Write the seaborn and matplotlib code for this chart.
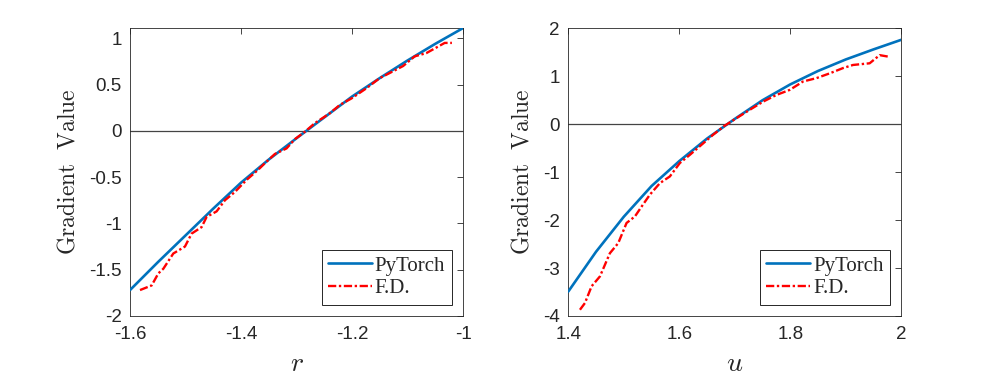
import numpy as np
import pandas as pd
import matplotlib
matplotlib.use("Agg")
import matplotlib.pyplot as plt
import seaborn as sns

# left panel: gradient w.r.t. r
r_torch = [-1.60, -1.55, -1.50, -1.45, -1.40, -1.35, -1.30, -1.25, -1.20, -1.15, -1.10, -1.05, -1.00]
g_torch_r = [-1.72, -1.42, -1.13, -0.84, -0.56, -0.31, -0.08, 0.145, 0.37, 0.57, 0.76, 0.94, 1.11]

r_fd = [-1.582, -1.561, -1.549, -1.540, -1.522, -1.501, -1.489, -1.471, -1.462, -1.444,
        -1.429, -1.411, -1.390, -1.369, -1.357, -1.339, -1.318, -1.303, -1.285, -1.267,
        -1.240, -1.222, -1.201, -1.174, -1.150, -1.132, -1.108, -1.087, -1.066, -1.045,
        -1.033, -1.020]
g_fd_r = [-1.72, -1.67, -1.54, -1.49, -1.325, -1.25, -1.11, -1.04, -0.93, -0.87,
          -0.75, -0.66, -0.53, -0.42, -0.35, -0.25, -0.19, -0.09, -0.01, 0.083,
          0.19, 0.28, 0.35, 0.46, 0.57, 0.625, 0.70, 0.805, 0.84, 0.91,
          0.95, 0.95]

# right panel: gradient w.r.t. u
u_torch = [1.40, 1.45, 1.50, 1.55, 1.60, 1.65, 1.70, 1.75, 1.80, 1.85, 1.90, 1.95, 2.00]
g_torch_u = [-3.49, -2.66, -1.93, -1.29, -0.77, -0.30, 0.11, 0.50, 0.83, 1.11, 1.35, 1.56, 1.76]

u_fd = [1.421, 1.430, 1.442, 1.457, 1.475, 1.490, 1.505, 1.520, 1.532, 1.547,
        1.565, 1.583, 1.601, 1.619, 1.643, 1.661, 1.682, 1.703, 1.727, 1.751,
        1.775, 1.799, 1.823, 1.847, 1.871, 1.895, 1.913, 1.943, 1.961, 1.976]
g_fd_u = [-3.87, -3.73, -3.38, -3.175, -2.69, -2.48, -2.06, -1.925, -1.72, -1.47,
          -1.23, -1.09, -0.81, -0.64, -0.40, -0.22, -0.03, 0.125, 0.30, 0.47,
          0.61, 0.715, 0.89, 0.96, 1.06, 1.17, 1.235, 1.27, 1.44, 1.41]

sns.set_style("white")
plt.rcParams['font.family'] = ['Liberation Sans', 'DejaVu Sans']
plt.rcParams['mathtext.fontset'] = 'cm'
plt.rcParams['axes.unicode_minus'] = False

BLUE = '#0072BD'
RED = '#FF0000'
DARK = '#262626'
FD_STYLE = (0, (3.5, 1.1, 1.0, 1.1))

fig = plt.figure(figsize=(9.97, 3.88), dpi=100)
ax1 = fig.add_axes([0.1304, 0.1856, 0.334, 0.7415])
ax2 = fig.add_axes([0.570, 0.1856, 0.334, 0.7415])

panels = [
    (ax1, r_torch, g_torch_r, r_fd, g_fd_r, (-1.6, -1.0), (-2, 1.108),
     [-1.6, -1.4, -1.2, -1.0], ['-1.6', '-1.4', '-1.2', '-1'],
     [-2, -1.5, -1, -0.5, 0, 0.5, 1], ['-2', '-1.5', '-1', '-0.5', '0', '0.5', '1'], r'$r$'),
    (ax2, u_torch, g_torch_u, u_fd, g_fd_u, (1.4, 2.0), (-4, 2),
     [1.4, 1.6, 1.8, 2.0], ['1.4', '1.6', '1.8', '2'],
     [-4, -3, -2, -1, 0, 1, 2], ['-4', '-3', '-2', '-1', '0', '1', '2'], r'$u$'),
]

for ax, xt, yt, xf, yf, xlim, ylim, xticks, xtl, yticks, ytl, xlab in panels:
    ax.axhline(0, color='#444444', lw=0.9, zorder=1)
    sns.lineplot(x=xt, y=yt, ax=ax, color=BLUE, lw=1.9, label='PyTorch', zorder=3)
    sns.lineplot(x=xf, y=yf, ax=ax, color=RED, lw=1.7, linestyle=FD_STYLE, label='F.D.', zorder=4)
    ax.set_xlim(*xlim)
    ax.set_ylim(*ylim)
    ax.set_xticks(xticks)
    ax.set_xticklabels(xtl)
    ax.set_yticks(yticks)
    ax.set_yticklabels(ytl)
    ax.tick_params(direction='in', length=4, width=0.6, color=DARK,
                   labelsize=13.5, labelcolor=DARK, top=True, right=True)
    ax.tick_params(axis='x', pad=7)
    ax.tick_params(axis='y', pad=6)
    for s in ax.spines.values():
        s.set_visible(True)
        s.set_color(DARK)
        s.set_linewidth(0.6)
    ax.set_xlabel(xlab, fontsize=20, labelpad=6)
    ax.set_ylabel(r'$\mathrm{Gradient\ \ Value}$', fontsize=17, labelpad=7)
    leg = ax.legend(loc='lower right', prop={'family': 'Liberation Serif', 'size': 15},
                    frameon=True, fancybox=False, framealpha=1, edgecolor=DARK,
                    borderaxespad=0.55, handlelength=2.1, handletextpad=0.15,
                    labelspacing=0.15, borderpad=0.3)
    leg.get_frame().set_linewidth(0.7)

fig.savefig('out.png', dpi=100)
